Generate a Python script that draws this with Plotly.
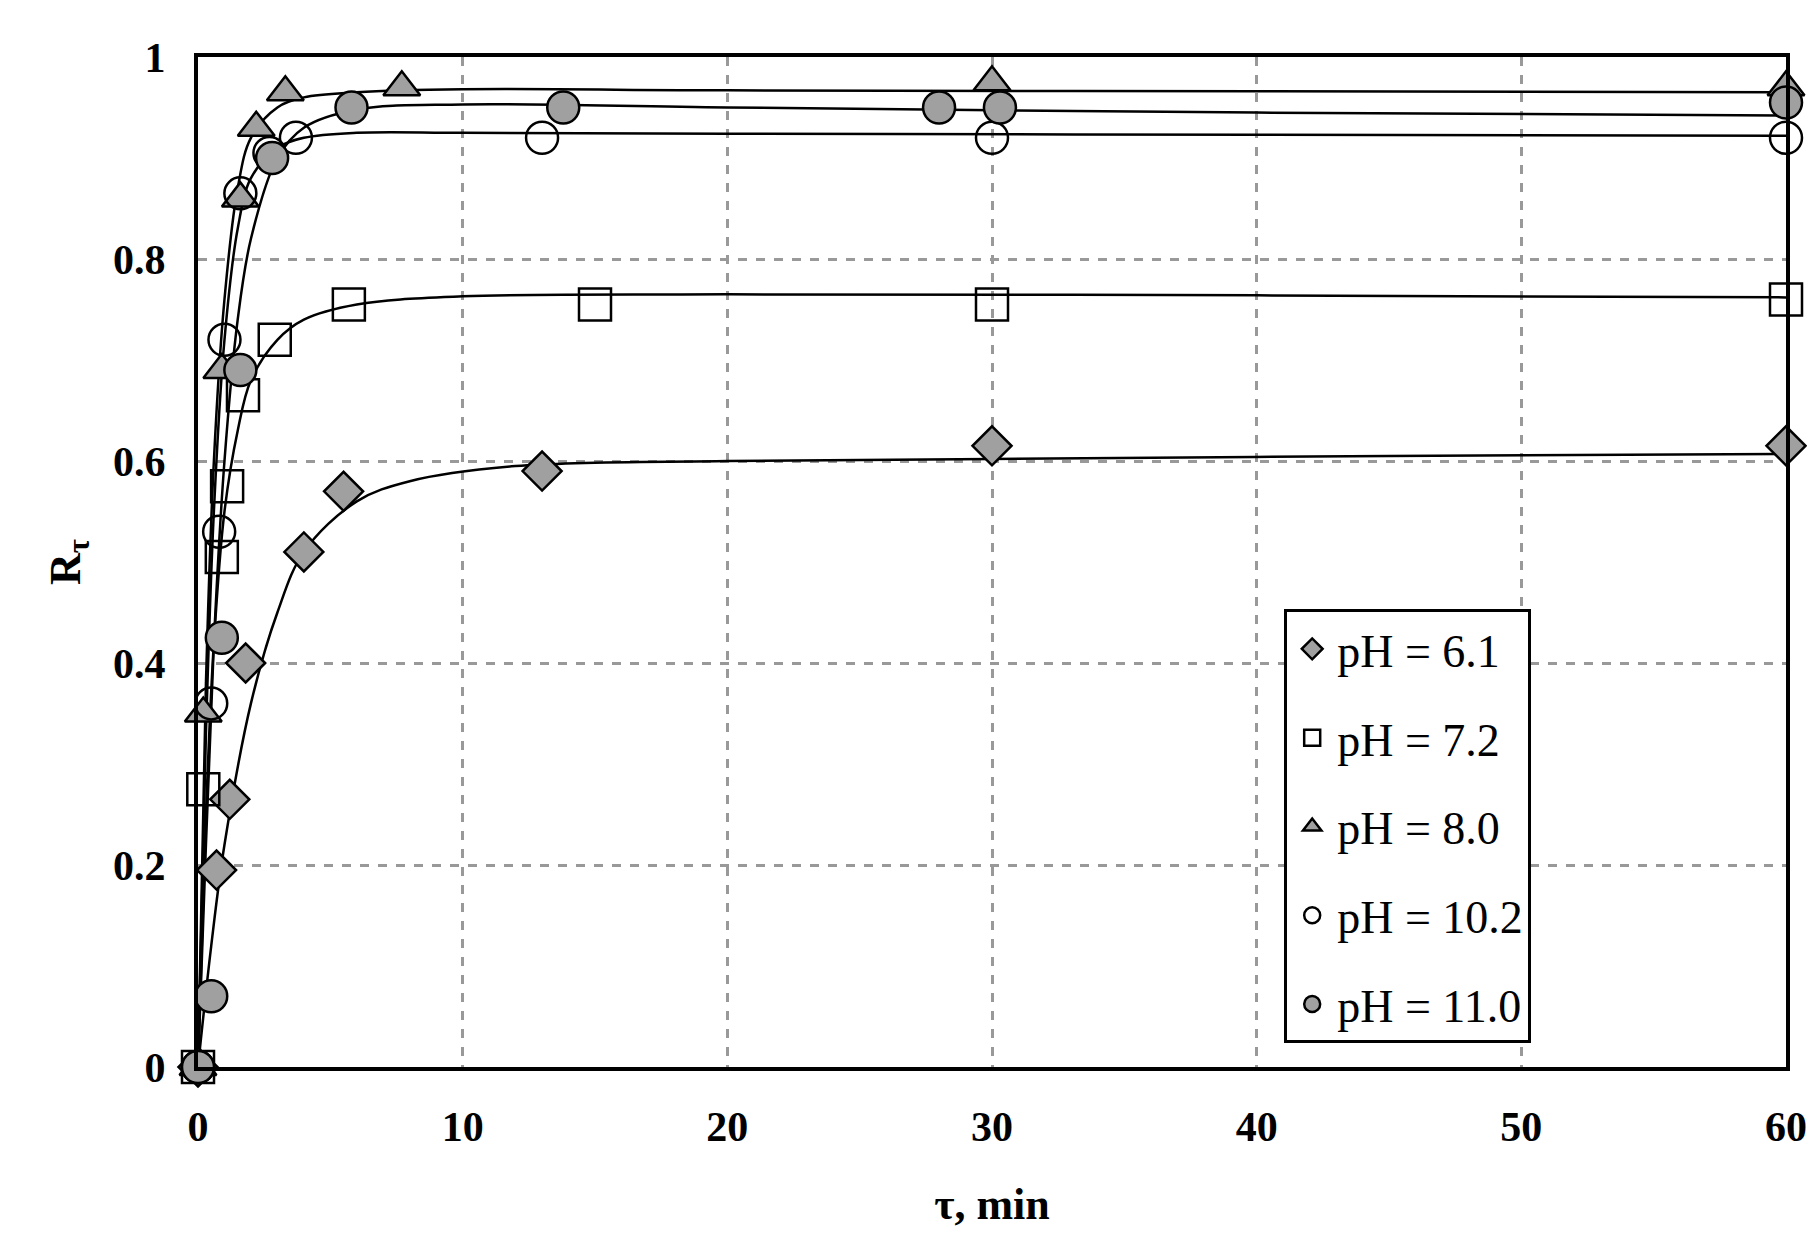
import plotly.graph_objects as go

t61 = [0, 0.7, 1.2, 1.8, 4.0, 5.5, 13, 30, 60]
r61 = [0, 0.195, 0.265, 0.40, 0.51, 0.57, 0.59, 0.615, 0.615]
t72 = [0, 0.2, 0.9, 1.1, 1.7, 2.9, 5.7, 15, 30, 60]
r72 = [0, 0.275, 0.505, 0.575, 0.665, 0.72, 0.755, 0.755, 0.755, 0.76]
t80 = [0, 0.2, 0.9, 1.6, 2.2, 3.3, 7.7, 30, 60]
r80 = [0, 0.35, 0.69, 0.86, 0.93, 0.965, 0.97, 0.975, 0.97]
t102 = [0, 0.5, 0.8, 1.0, 1.6, 2.7, 3.7, 13, 30, 60]
r102 = [0, 0.36, 0.53, 0.72, 0.865, 0.905, 0.92, 0.92, 0.92, 0.92]
t110 = [0, 0.5, 0.9, 1.6, 2.8, 5.8, 13.8, 28, 30.3, 60]
r110 = [0, 0.07, 0.425, 0.69, 0.90, 0.95, 0.95, 0.95, 0.95, 0.955]

# fitted curve points
c61_t = [0, 0.5, 1, 2, 3, 4, 6, 8, 12, 20, 30, 45, 60]
c61_r = [0, 0.12, 0.22, 0.36, 0.45, 0.51, 0.56, 0.58, 0.595, 0.60, 0.602, 0.605, 0.607]
c72_t = [0, 0.3, 0.6, 1, 1.5, 2, 3, 4, 6, 10, 20, 40, 60]
c72_r = [0, 0.25, 0.42, 0.55, 0.63, 0.68, 0.72, 0.74, 0.755, 0.763, 0.765, 0.764, 0.762]
c80_t = [0, 0.3, 0.6, 1, 1.5, 2, 3, 4, 6, 10, 20, 40, 60]
c80_r = [0, 0.38, 0.6, 0.76, 0.87, 0.92, 0.95, 0.96, 0.965, 0.968, 0.967, 0.966, 0.965]
c102_t = [0, 0.3, 0.6, 1, 1.5, 2, 3, 4, 6, 10, 20, 40, 60]
c102_r = [0, 0.33, 0.55, 0.72, 0.83, 0.88, 0.91, 0.92, 0.925, 0.925, 0.924, 0.923, 0.922]
c110_t = [0, 0.3, 0.6, 1, 1.5, 2, 3, 4, 6, 10, 20, 40, 60]
c110_r = [0, 0.22, 0.42, 0.6, 0.74, 0.82, 0.9, 0.93, 0.948, 0.953, 0.95, 0.945, 0.942]

labels = ["pH = 6.1", "pH = 7.2", "pH = 8.0", "pH = 10.2", "pH = 11.0"]
symbols = ["diamond", "square-open", "triangle-up", "circle-open", "circle"]
pts = [(t61, r61), (t72, r72), (t80, r80), (t102, r102), (t110, r110)]
curves = [(c61_t, c61_r), (c72_t, c72_r), (c80_t, c80_r), (c102_t, c102_r), (c110_t, c110_r)]

fig = go.Figure()
for (ct, cr) in curves:
    fig.add_trace(go.Scatter(x=ct, y=cr, mode="lines", showlegend=False,
                             line=dict(color="black", width=2.5, shape="spline", smoothing=1.0),
                             cliponaxis=False))
for i, (lab, sym, (t, r)) in enumerate(zip(labels, symbols, pts)):
    filled = not sym.endswith("open")
    size = 30 if sym == "diamond" else 32
    fig.add_trace(go.Scatter(
        x=t, y=r, mode="markers", name=lab, cliponaxis=False, legendgroup=f"g{i}",
        marker=dict(symbol=sym, size=size,
                    color="#a0a0a0" if filled else "black",
                    line=dict(color="black", width=2.5))))

font = "Liberation Serif, Times New Roman, serif"
fig.update_layout(
    width=1815, height=1237, paper_bgcolor="white", plot_bgcolor="white",
    margin=dict(l=190, r=37, t=49, b=178),
    font=dict(family=font, color="black"),
    legend=dict(x=0.684, y=0.453, xanchor="left", yanchor="top",
                bordercolor="black", borderwidth=3, bgcolor="white",
                font=dict(size=46), itemsizing="trace", itemwidth=40,
                tracegroupgap=26),
    xaxis=dict(range=[0, 60], dtick=10, showgrid=True, gridcolor="#999999",
               griddash="dash", gridwidth=2.5, zeroline=False,
               showline=True, linecolor="black", linewidth=4, mirror=True,
               tickfont=dict(size=42, family=font, weight="bold"), ticks="",
               ticklabelstandoff=20,
               title=dict(text="<b>τ, min</b>", font=dict(size=44), standoff=40)),
    yaxis=dict(range=[0, 1], dtick=0.2, showgrid=True, gridcolor="#999999",
               griddash="dash", gridwidth=2.5, zeroline=False,
               showline=True, linecolor="black", linewidth=4, mirror=True,
               tickfont=dict(size=42, family=font, weight="bold"), ticks="",
               ticklabelstandoff=20,
               tickvals=[0, 0.2, 0.4, 0.6, 0.8, 1], ticktext=["0", "0.2", "0.4", "0.6", "0.8", "1"],
               title=dict(text="<b>R<sub>τ</sub></b>", font=dict(size=44), standoff=20)),
)
fig.write_html("out.html")
